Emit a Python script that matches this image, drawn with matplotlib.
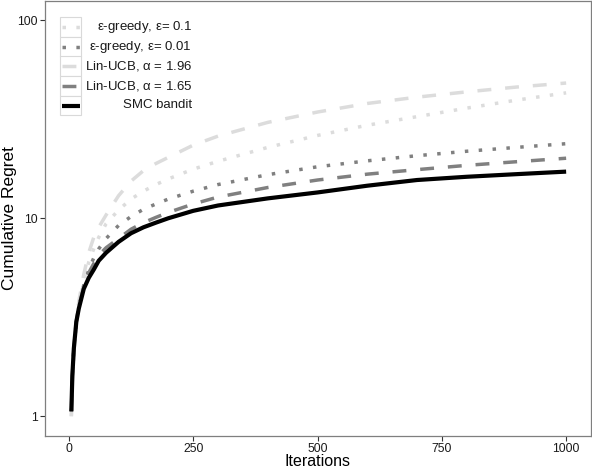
import matplotlib
matplotlib.use("Agg")
import matplotlib.pyplot as plt
from matplotlib.lines import Line2D
from matplotlib.patches import Rectangle


"""Data read off the chart"""
iterations = [5, 7, 10, 15, 20, 30, 40, 50, 60, 75, 100, 125, 150, 175, 200, 250, 300, 400, 500, 600, 700, 800, 900, 1000]
eps_greedy_01 = [1.0, 1.5, 2.1, 2.9, 3.6, 4.8, 6.0, 7.0, 8.0, 9.4, 11.0, 12.5, 13.7, 14.8, 15.8, 17.7, 19.4, 22.8, 26.2, 29.5, 32.6, 36.0, 39.5, 43.0]
eps_greedy_001 = [1.05, 1.6, 2.2, 3.0, 3.6, 4.6, 5.5, 6.3, 7.0, 7.9, 9.2, 10.2, 11.1, 11.8, 12.5, 13.7, 14.8, 16.6, 18.2, 19.5, 20.7, 21.8, 22.8, 23.8]
lin_ucb_196 = [1.0, 1.5, 2.1, 3.0, 3.8, 5.2, 6.7, 8.0, 9.0, 10.4, 13.0, 15.4, 17.4, 18.9, 20.3, 23.4, 26.0, 30.5, 34.4, 38.0, 40.9, 43.5, 46.0, 48.2]
lin_ucb_165 = [1.05, 1.6, 2.2, 3.0, 3.6, 4.5, 5.3, 5.9, 6.5, 7.1, 7.9, 8.8, 9.5, 10.1, 10.7, 11.8, 12.8, 14.3, 15.6, 16.7, 17.6, 18.5, 19.3, 20.1]
smc_bandit = [1.06, 1.6, 2.2, 3.0, 3.5, 4.4, 5.0, 5.5, 6.1, 6.7, 7.6, 8.4, 9.0, 9.5, 10.0, 10.9, 11.6, 12.6, 13.5, 14.6, 15.6, 16.2, 16.7, 17.2]

labels = [r"$\epsilon$-greedy, $\epsilon$= 0.1", r"$\epsilon$-greedy, $\epsilon$= 0.01",
          r"Lin-UCB, $\alpha$ = 1.96", r"Lin-UCB, $\alpha$ = 1.65", "SMC bandit"]
series = [eps_greedy_01, eps_greedy_001, lin_ucb_196, lin_ucb_165, smc_bandit]

light = "#dcdcdc"
dark = "#808080"
styles = [
    dict(color=light, lw=2.5, dashes=(1, 3)),
    dict(color=dark, lw=2.5, dashes=(1, 3)),
    dict(color=light, lw=2.5, dashes=(4, 4)),
    dict(color=dark, lw=2.5, dashes=(4, 4)),
    dict(color="black", lw=3.0),
]

plt.rcParams["font.family"] = ["Liberation Sans", "DejaVu Sans"]
plt.rcParams["mathtext.fontset"] = "custom"
plt.rcParams["mathtext.rm"] = "Liberation Sans"
plt.rcParams["mathtext.it"] = "Liberation Sans"

W, H = 592, 468
fig = plt.figure(figsize=(W / 100, H / 100), dpi=100)
ax_w, ax_h = 591 - 44.5, 436 - 0.5
ax = fig.add_axes([44.5 / W, (H - 436) / H, ax_w / W, ax_h / H])

for ys, st in zip(series, styles):
    ax.plot(iterations, ys, solid_capstyle="butt", dash_capstyle="butt", **st)

ax.set_yscale("log")
ax.set_ylim(10 ** -0.1, 10 ** 2.1)
ax.set_xlim(-49, 1050)
ax.set_yticks([1, 10, 100])
ax.set_yticklabels(["1", "10", "100"])
ax.yaxis.set_minor_locator(matplotlib.ticker.NullLocator())
ax.set_xticks([0, 250, 500, 750, 1000])

for sp in ax.spines.values():
    sp.set_color("#7f7f7f")
    sp.set_linewidth(0.9)
ax.tick_params(length=3.5, width=0.8, color="#333333", labelsize=8.8, pad=1.5, labelcolor="#1a1a1a")

ax.set_xlabel("Iterations", fontsize=11.5, va="baseline")
ax.xaxis.set_label_coords(0.5, (436 - 465.5) / ax_h)
ax.set_ylabel("Cumulative Regret", fontsize=12.5)
ax.yaxis.set_label_coords((17 - 44.5) / ax_w, 0.5)


"""Legend drawn by hand so text can sit right-aligned"""
def px(x, y):
    return x / W, 1 - y / H

row_top = 17.3
row_h = 19.6
for i, (lab, st) in enumerate(zip(labels, styles)):
    y0 = row_top + i * row_h
    bx, by = px(60, y0 + row_h)
    fig.add_artist(Rectangle((bx, by), 21 / W, row_h / H, transform=fig.transFigure,
                             facecolor="white", edgecolor="#d9d9d9", lw=0.8))
    yc = y0 + row_h / 2
    x1, yy = px(62, yc)
    x2, _ = px(79.5, yc)
    ln = Line2D([x1, x2], [yy, yy], transform=fig.transFigure, solid_capstyle="butt",
                dash_capstyle="butt", **st)
    fig.add_artist(ln)
    tx, ty = px(192, yc)
    fig.text(tx, ty, lab, ha="right", va="center", fontsize=9.5, color="#1a1a1a")

fig.savefig("out.png", dpi=100)
